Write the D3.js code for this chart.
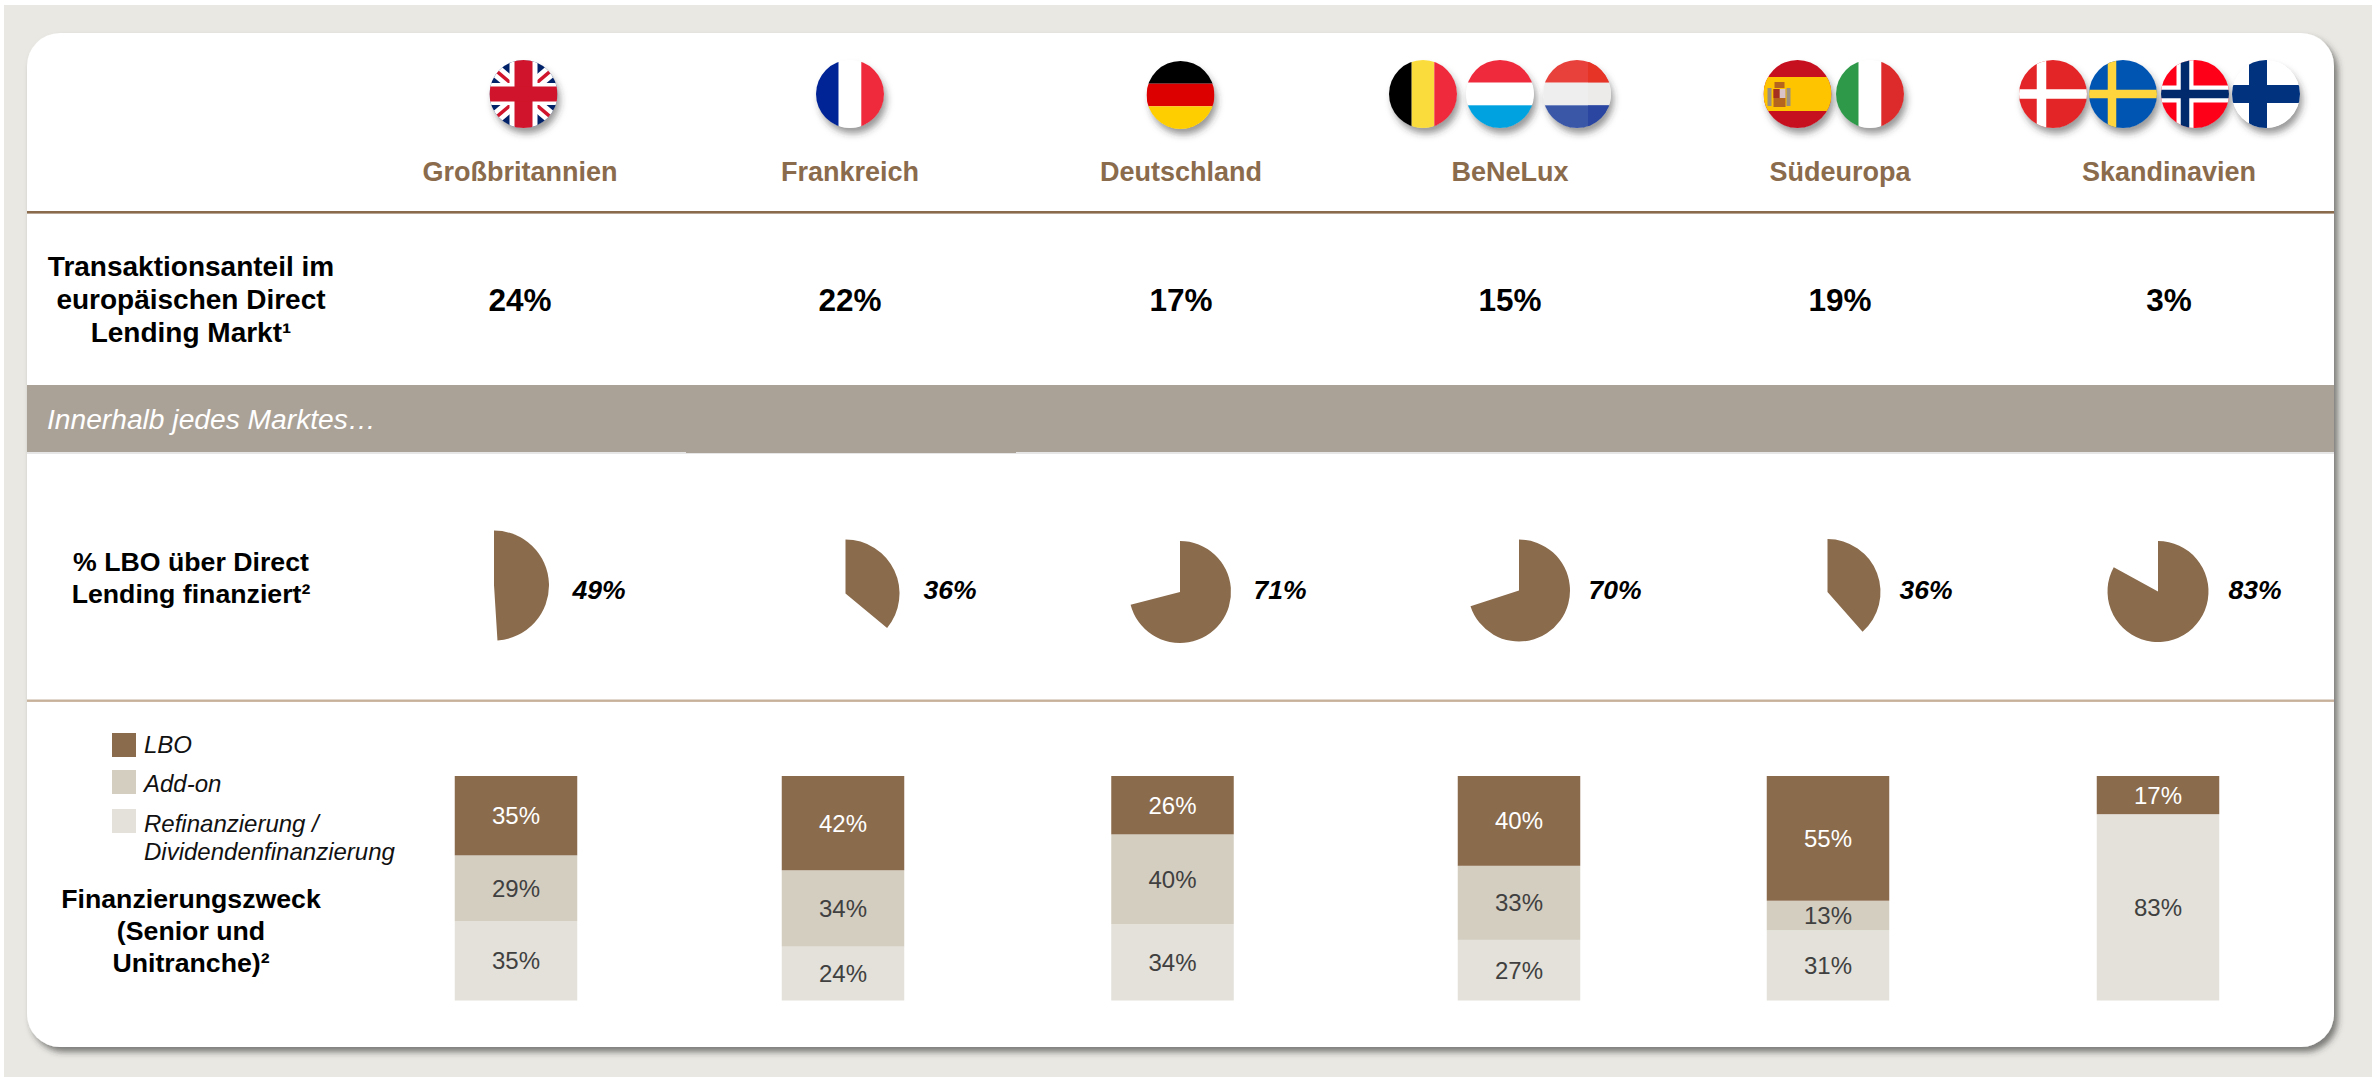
<!DOCTYPE html>
<html lang="de"><head><meta charset="utf-8">
<script src="https://cdnjs.cloudflare.com/ajax/libs/d3/7.8.5/d3.min.js"></script>
<style>html,body{margin:0;padding:0;background:#fff}svg{display:block}text{font-family:"Liberation Sans",Arial,sans-serif}</style>
</head><body><svg id="c" width="2380" height="1077"></svg>
<script>
// ---------- data ----------
const markets = ["Großbritannien","Frankreich","Deutschland","BeNeLux","Südeuropa","Skandinavien"];
const marketShare = [24,22,17,15,19,3];
const lboShareLabels = [49,36,71,70,36,83];
const lboShareDrawn = [49,36,71,70,38.5,83];
const seriesNames = ["LBO","Add-on","Refinanzierung"];
const lbo = [35,42,26,40,55,17];
const addOn = [29,34,40,33,13,0];
const refi = [35,24,34,27,31,83];
const flagsByMarket = [["uk"],["fr"],["de"],["be","lu","nl"],["es","it"],["dk","se","no","fi"]];
const rowTitles = [
  ["Transaktionsanteil im","europäischen Direct","Lending Markt¹"],
  ["% LBO über Direct","Lending finanziert²"],
  ["Finanzierungszweck","(Senior und","Unitranche)²"]];
const bandTitle = "Innerhalb jedes Marktes…";
const legendLines = [["LBO"],["Add-on"],["Refinanzierung /","Dividendenfinanzierung"]];

// ---------- layout ----------
const BROWN="#8a6b4c", MID="#d4cec0", LIGHT="#e3e1d9", BAND="#aba297";
const CARD={x:27,y:33,w:2307,h:1014,r:33};
const labelX = d3.scaleOrdinal(markets,[520,850,1181,1510,1840,2169]);
const shareX = labelX;
const barX = d3.scaleOrdinal(markets,[516,843,1172.5,1519,1828,2158]);
const pieGeom = [{cx:494,cy:585.5,r:55},{cx:845.5,cy:593.5,r:54},{cx:1180,cy:592,r:51},{cx:1519,cy:590.5,r:51},{cx:1827.5,cy:592,r:53},{cx:2158,cy:591.5,r:50.5}];
const pieLabelX = [599,950,1280,1615,1926,2255];
const flagCx = {uk:523.5,fr:850,de:1180.5,be:1423,lu:1500,nl:1577,es:1797.5,it:1870,dk:2053,se:2123,no:2195,fi:2266};
const FLAG_R=34, FLAG_CY=94;
const barW=122.5;
const y = d3.scaleLinear().domain([0,1]).range([1000.5,776]);

const svg=d3.select("#c");
const defs=svg.append("defs");
const shadow=(id,dx,dy,b,op)=>defs.append("filter").attr("id",id).attr("x","-30%").attr("y","-30%").attr("width","170%").attr("height","170%")
  .append("feDropShadow").attr("dx",dx).attr("dy",dy).attr("stdDeviation",b).attr("flood-color","#333").attr("flood-opacity",op);
shadow("cardS",4,5,3,.6); shadow("flagS",3,6,3.5,.5);
const cardRect=s=>s.attr("x",CARD.x).attr("y",CARD.y).attr("width",CARD.w).attr("height",CARD.h).attr("rx",CARD.r);
cardRect(defs.append("clipPath").attr("id","cardClip").append("rect"));

// background + card
svg.append("rect").attr("x",4).attr("y",5).attr("width",2368).attr("height",1072).attr("fill","#e9e8e3");
cardRect(svg.append("rect")).attr("fill","#fff").attr("filter","url(#cardS)");
const card=svg.append("g").attr("clip-path","url(#cardClip)");

// rules and band
card.append("rect").attr("x",CARD.x).attr("y",211).attr("width",CARD.w).attr("height",2.6).attr("fill",BROWN);
card.append("rect").attr("x",CARD.x).attr("y",385).attr("width",CARD.w).attr("height",67).attr("fill",BAND);
card.append("rect").attr("x",CARD.x).attr("y",452).attr("width",CARD.w).attr("height",2).attr("fill","#e6e6e6");
card.append("rect").attr("x",686).attr("y",452).attr("width",330).attr("height",1).attr("fill",BAND);
card.append("rect").attr("x",CARD.x).attr("y",699.5).attr("width",CARD.w).attr("height",2.4).attr("fill","#c8b19b");
card.append("text").attr("x",47).attr("y",429).attr("fill","#fff").attr("font-size",28.2).attr("font-style","italic").text(bandTitle);

// market names + shares
svg.selectAll(".mk").data(markets).join("text").attr("class","mk").attr("x",d=>labelX(d)).attr("y",181)
  .attr("text-anchor","middle").attr("font-size",27).attr("font-weight",700).attr("fill",BROWN).text(d=>d);
svg.selectAll(".sh").data(markets).join("text").attr("class","sh").attr("x",d=>shareX(d)).attr("y",311)
  .attr("text-anchor","middle").attr("font-size",31.5).attr("font-weight",700).attr("fill","#000").text((d,i)=>marketShare[i]+"%");

// row titles
const rowY=[[276,309,342],[571,603],[908,940,972]], rowFs=[28,26.7,26.7];
rowTitles.forEach((lines,r)=>lines.forEach((t,i)=>svg.append("text").attr("x",191).attr("y",rowY[r][i])
  .attr("text-anchor","middle").attr("font-size",rowFs[r]).attr("font-weight",700).attr("fill","#000").text(t)));

// pies
const pie=d3.pie().sort(null).value(d=>d);
svg.selectAll(".pie").data(lboShareDrawn).join("path").attr("class","pie")
  .attr("transform",(d,i)=>`translate(${pieGeom[i].cx},${pieGeom[i].cy})`)
  .attr("d",(d,i)=>d3.arc().innerRadius(0).outerRadius(pieGeom[i].r)(pie([d,100-d])[0])).attr("fill",BROWN);
svg.selectAll(".pl").data(lboShareLabels).join("text").attr("class","pl").attr("x",(d,i)=>pieLabelX[i]).attr("y",599)
  .attr("text-anchor","middle").attr("font-size",26.5).attr("font-weight",700).attr("font-style","italic").attr("fill","#000").text(d=>d+"%");

// stacked bars
const rows=markets.map((m,i)=>({m,lbo:lbo[i],addOn:addOn[i],refi:refi[i]}));
const keys=["refi","addOn","lbo"];
const fill={lbo:BROWN,addOn:MID,refi:LIGHT}, ink={lbo:"#fff",addOn:"#404040",refi:"#404040"};
const stacked=d3.stack().keys(keys).offset(d3.stackOffsetExpand)(rows);
stacked.forEach(s=>{
  const g=svg.append("g");
  const vis=s.filter(d=>d.data[s.key]>0);
  g.selectAll("rect").data(vis).join("rect").attr("x",d=>barX(d.data.m)-barW/2).attr("width",barW)
    .attr("y",d=>y(d[1])).attr("height",d=>y(d[0])-y(d[1])).attr("fill",fill[s.key]);
  g.selectAll("text").data(vis).join("text").attr("x",d=>barX(d.data.m)).attr("y",d=>(y(d[0])+y(d[1]))/2+8.5)
    .attr("text-anchor","middle").attr("font-size",24).attr("fill",ink[s.key]).text(d=>d.data[s.key]+"%");
});

// legend
const legY=[733,770,809], legT=[[753],[792],[832,860]], legC=[BROWN,MID,LIGHT];
legendLines.forEach((ls,i)=>{
  svg.append("rect").attr("x",112).attr("y",legY[i]).attr("width",24).attr("height",24).attr("fill",legC[i]);
  ls.forEach((t,j)=>svg.append("text").attr("x",144).attr("y",legT[i][j]).attr("font-size",24).attr("font-style","italic").attr("fill","#111").text(t));
});

// flags
const R=FLAG_R;
const stripesV=c=>[{x:-R,y:-R,w:R-11.3,h:2*R,f:c[0]},{x:-11.3,y:-R,w:22.6,h:2*R,f:c[1]},{x:11.3,y:-R,w:R-11.3,h:2*R,f:c[2]}];
const stripesH=c=>[{x:-R,y:-R,w:2*R,h:R-11.3,f:c[0]},{x:-R,y:-11.3,w:2*R,h:22.6,f:c[1]},{x:-R,y:11.3,w:2*R,h:R-11.3,f:c[2]}];
const nordic=(bg,ox,parts)=>[{x:-R,y:-R,w:2*R,h:2*R,f:bg}].concat(parts.flatMap(([w,f])=>[{x:ox-w/2,y:-R,w,h:2*R,f},{x:-R,y:-w/2,w:2*R,h:w,f}]));
const flagDefs={
 fr:stripesV(["#002395","#fff","#ee2a3c"]),
 be:stripesV(["#000","#fadd3d","#ee2a3c"]),
 it:stripesV(["#2e9949","#fff","#dd2a2a"]),
 de:stripesH(["#000","#dd0000","#ffce00"]),
 lu:stripesH(["#ee2a3c","#fff","#00a3e0"]),
 nl:stripesH(["#e8403a","#eeeeee","#3a56a7"]).concat([{x:11,y:-R,w:R,h:22.7,f:"#e63427"},{x:11,y:-11.3,w:R,h:22.6,f:"#ecebe9"},{x:11,y:11.3,w:R,h:23,f:"#2a46a0"}]),
 es:[{x:-R,y:-R,w:2*R,h:2*R,f:"#c60f1f"},{x:-R,y:-17,w:2*R,h:34,f:"#ffc400"},
     {x:-30,y:-6,w:4,h:18,f:"#9a8f80"},{x:-11,y:-6,w:4,h:18,f:"#9a8f80"},
     {x:-24,y:-5,w:12,h:18,f:"#b5651d"},{x:-18,y:-5,w:6,h:9,f:"#d9c3c8"},{x:-24,y:-5,w:6,h:9,f:"#a5301f"},{x:-23,y:-12,w:10,h:6,f:"#b5651d"}],
 dk:nordic("#e42528",-11.5,[[9.5,"#fff"]]),
 se:nordic("#0055b3",-11,[[8.5,"#ffd53e"]]),
 no:nordic("#ff0019",-10,[[17,"#fff"],[8.5,"#002a6b"]]),
 fi:nordic("#fff",-8,[[18,"#00327e"]]),
 uk:[{x:-R,y:-R,w:2*R,h:2*R,f:"#012169"}]
};
Object.keys(flagCx).forEach(k=>defs.append("clipPath").attr("id","fc"+k).append("circle").attr("r",R));
flagsByMarket.flat().forEach(k=>{
  const g=svg.append("g").attr("transform",`translate(${flagCx[k]},${k==="de"?95:FLAG_CY})`);
  g.append("circle").attr("r",R-.5).attr("fill","#fff").attr("filter","url(#flagS)");
  const inner=g.append("g").attr("clip-path",`url(#fc${k})`);
  inner.selectAll("rect").data(flagDefs[k]).join("rect").attr("x",d=>d.x).attr("y",d=>d.y).attr("width",d=>d.w).attr("height",d=>d.h).attr("fill",d=>d.f);
  if(k==="uk"){
    const dg=[[-R,-R*.85,R,R*.85],[-R,R*.85,R,-R*.85]];
    inner.selectAll(".w").data(dg).join("line").attr("x1",d=>d[0]).attr("y1",d=>d[1]).attr("x2",d=>d[2]).attr("y2",d=>d[3]).attr("stroke","#fff").attr("stroke-width",13);
    inner.selectAll(".r").data(dg).join("line").attr("class","r").attr("x1",d=>d[0]).attr("y1",d=>d[1]).attr("x2",d=>d[2]).attr("y2",d=>d[3]).attr("stroke","#cf142b").attr("stroke-width",3.5);
    [[-14,-R,28,2*R,"#fff"],[-R,-11,2*R,22,"#fff"],[-9,-R,18,2*R,"#cf142b"],[-R,-7.5,2*R,15,"#cf142b"]].forEach(a=>inner.append("rect").attr("x",a[0]).attr("y",a[1]).attr("width",a[2]).attr("height",a[3]).attr("fill",a[4]));
  }
});
</script></body></html>
